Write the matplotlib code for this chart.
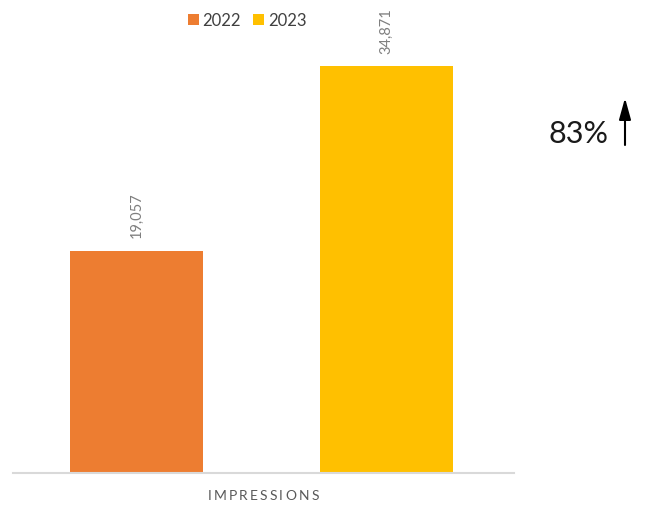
import matplotlib
matplotlib.use("Agg")
import matplotlib.pyplot as plt
from matplotlib.patches import FancyArrowPatch
from matplotlib.font_manager import FontProperties

plt.rcParams['font.family'] = ['Lato', 'DejaVu Sans']

category = "IMPRESSIONS"
years = ["2022", "2023"]
values = [19057, 34871]
colors = ["#ED7D31", "#FFC000"]
growth = "83%"

fig = plt.figure(figsize=(6.45, 5.06), dpi=100)
# axes box in pixels: left 13, right 514, bottom at y=474, top at y=40
W, H = 645, 506
ax = fig.add_axes([13 / W, (H - 474) / H, (514 - 13) / W, (474 - 40) / H])

xs = [0, 1]
bw = 0.53
for x, v, c, y in zip(xs, values, colors, years):
    ax.bar(x, v, width=bw, color=c, label=y, zorder=2)
    ax.text(x, v + 1150, f"{v:,}", rotation=90, ha="center", va="bottom",
            fontsize=10.5, color="#7F7F7F")

ax.set_xlim(-0.495, 1.51)
ax.set_ylim(0, values[1] * (474 - 40) / (474 - 67))
for s in ["top", "right", "left"]:
    ax.spines[s].set_visible(False)
ax.spines["bottom"].set_color("#D9D9D9")
ax.spines["bottom"].set_linewidth(1.5)
ax.set_yticks([])
ax.set_xticks([])

# category label with wide letter spacing, laid out one glyph at a time
renderer = fig.canvas.get_renderer()
fp = FontProperties(family=['Lato', 'DejaVu Sans'], size=10)
track = 2.2
advances = [renderer.get_text_width_height_descent(ch, fp, ismath=False)[0] for ch in category]
total = sum(advances) + track * (len(category) - 1)
xpos = 263 - total / 2
for ch, adv in zip(category, advances):
    fig.text(xpos / W, (H - 496) / H, ch, fontproperties=fp, color="#595959",
             ha="left", va="center")
    xpos += adv + track

leg = fig.legend(loc="center", bbox_to_anchor=(247 / W, (H - 21) / H), ncol=2,
                 frameon=False, fontsize=12, handlelength=0.65, handleheight=0.65,
                 handletextpad=0.25, columnspacing=0.7, borderaxespad=0)
for t in leg.get_texts():
    t.set_color("#404040")

fig.text(578 / W, (H - 134) / H, growth, ha="center", va="center",
         fontsize=22, color="#1A1A1A")
fig.add_artist(FancyArrowPatch(
    (625 / W, (H - 146) / H), (625 / W, (H - 99) / H),
    transform=fig.transFigure, arrowstyle="-|>,head_length=13,head_width=3.6",
    color="black", linewidth=1.5, shrinkA=0, shrinkB=0))

fig.savefig("out.png", dpi=100)
